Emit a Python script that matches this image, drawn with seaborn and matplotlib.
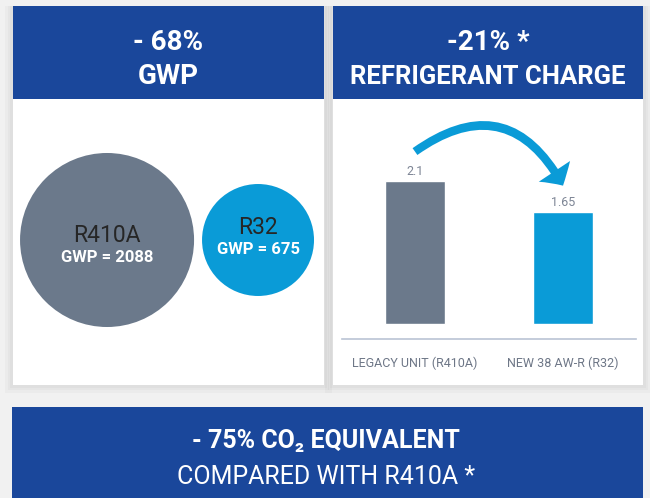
import matplotlib
matplotlib.use("Agg")
import matplotlib.pyplot as plt
from matplotlib.patches import Rectangle
import seaborn as sns
import pandas as pd

# data
refrigerants = ["R410A", "R32"]
gwp_values = [2088, 675]
units = ["LEGACY UNIT (R410A)", "NEW 38 AW-R (R32)"]
charge = [2.1, 1.65]
gwp_title = ["- 68%", "GWP"]
charge_title = ["-21% *", "REFRIGERANT CHARGE"]
banner_lines = ["- 75% CO\u2082 EQUIVALENT", "COMPARED WITH R410A *"]

BLUE = "#1a479b"
GREY = "#6b798b"
CYAN = "#0a9bd7"

sns.set_style("white")
plt.rcParams["font.family"] = ["Roboto", "DejaVu Sans"]

W, H = 650, 498
fig = plt.figure(figsize=(W / 100, H / 100), dpi=100)
fig.patch.set_facecolor("#f1f1f1")


def box(x0, y0, x1, y1):
    return [x0 / W, 1 - y1 / H, (x1 - x0) / W, (y1 - y0) / H]


def rect(x0, y0, x1, y1, color, alpha=1.0, z=0):
    l, b, w, h = box(x0, y0, x1, y1)
    fig.add_artist(Rectangle((l, b), w, h, transform=fig.transFigure,
                             facecolor=color, edgecolor="none", alpha=alpha, zorder=z))


# panel shadows, bodies and headers
for (x0, y0, x1, y1) in [(13, 6, 324, 385), (333, 6, 643, 385)]:
    for g in (8, 5, 3):
        rect(x0 - g, y0, x1 + g, y1 + g, "#000000", alpha=0.025, z=0)
    rect(x0, y0, x1, y1, "white", z=1)
    rect(x0, y0, x1, 99, BLUE, z=2)
rect(12, 407, 643, 498, BLUE, z=2)

# header texts
fig.text(168.5 / W, 1 - 42 / H, gwp_title[0], ha="center", va="center",
         color="white", fontsize=20, fontweight="bold", zorder=5)
fig.text(168.5 / W, 1 - 77 / H, gwp_title[1], ha="center", va="center",
         color="white", fontsize=20, fontweight="bold", zorder=5)
fig.text(488 / W, 1 - 42 / H, charge_title[0], ha="center", va="center",
         color="white", fontsize=20, fontweight="bold", zorder=5)
fig.text(488 / W, 1 - 77 / H, charge_title[1], ha="center", va="center",
         color="white", fontsize=18.5, fontweight="bold", zorder=5)
fig.text(326 / W, 1 - 441 / H, banner_lines[0], ha="center", va="center",
         color="white", fontsize=18, fontweight="bold", zorder=5)
fig.text(326 / W, 1 - 477 / H, banner_lines[1], ha="center", va="center",
         color="white", fontsize=18, fontweight="normal", zorder=5)

# circles (GWP)
ax1 = fig.add_axes(box(13, 99, 324, 385))
ax1.set_zorder(3)
ax1.patch.set_alpha(0)
df_gwp = pd.DataFrame({"refrigerant": refrigerants, "gwp": gwp_values,
                       "y": [0] * len(refrigerants)})
sns.scatterplot(data=df_gwp, x="refrigerant", y="y", hue="refrigerant",
                palette=[GREY, CYAN], size="gwp", sizes=(6500, 15700),
                linewidth=0, legend=False, ax=ax1)
ax1.set_xlim(-0.623, 1.437)
ax1.set_ylim(-145, 141)
ax1.axis("off")
name_offsets = [4, 12]
gwp_offsets = [-17, -10]
for i, (name, g) in enumerate(zip(refrigerants, gwp_values)):
    ax1.annotate(name, (i, 0), xytext=(0, name_offsets[i]), textcoords="offset pixels",
                 ha="center", va="center", fontsize=16.5, color="#262626")
    ax1.annotate(f"GWP = {g}", (i, 0), xytext=(0, gwp_offsets[i]),
                 textcoords="offset pixels", ha="center", va="center",
                 fontsize=12, fontweight="bold", color="white")

# bars (refrigerant charge)
ax2 = fig.add_axes(box(342, 110, 636, 339))
ax2.set_zorder(3)
ax2.patch.set_alpha(0)
df_charge = pd.DataFrame({"unit": units, "charge": charge})
sns.barplot(data=df_charge, x="unit", y="charge", hue="unit",
            palette=[GREY, CYAN], saturation=1, width=0.405, legend=False, ax=ax2)
for c in ax2.containers:
    ax2.bar_label(c, fmt="%g", padding=2, fontsize=9, color="#7d8595")
ax2.set_xlim(-0.493, 1.493)
ax2.set_ylim(-0.22, 3.14)
for s in ["top", "left", "right"]:
    ax2.spines[s].set_visible(False)
ax2.spines["bottom"].set_color("#bac4d4")
ax2.spines["bottom"].set_linewidth(1.2)
ax2.set_yticks([])
ax2.set_xlabel("")
ax2.set_ylabel("")
ax2.tick_params(axis="x", length=0, pad=13, labelsize=9, labelcolor="#6e7787")

# curved arrow from legacy bar to new bar
ax2.annotate("", xy=(1, charge[1] + 0.38), xytext=(0, charge[0] + 0.43),
             arrowprops=dict(arrowstyle="simple,head_width=1.35,head_length=0.6,tail_width=0.3",
                             connectionstyle="arc3,rad=-0.56", color=CYAN,
                             mutation_scale=20, shrinkA=0, shrinkB=0, linewidth=0))

fig.savefig("out.png", dpi=100, facecolor=fig.get_facecolor())
